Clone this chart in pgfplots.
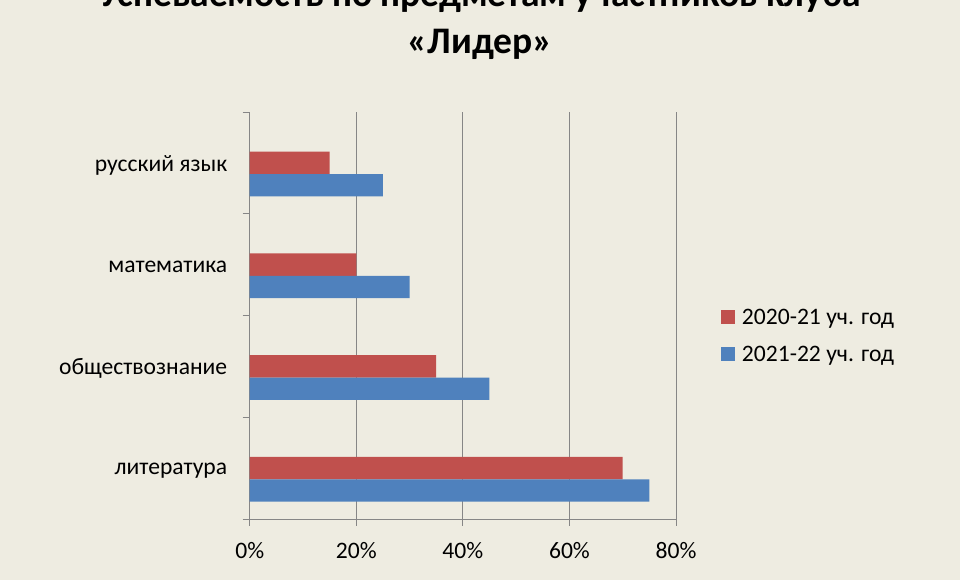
\documentclass[border=0pt]{standalone}
\usepackage{pgfplots}
\pgfplotsset{compat=1.18}
\usepackage{fontspec}
\setmainfont{Carlito}
\definecolor{bg}{HTML}{EEECE1}
\definecolor{redbar}{HTML}{C0504D}
\definecolor{bluebar}{HTML}{4F81BD}
\definecolor{gridc}{HTML}{868686}
\begin{document}
\begin{tikzpicture}[x=1bp,y=1bp]
\clip (0,0) rectangle (960,580);
\fill[bg] (0,0) rectangle (960,580);
\node[anchor=base,inner sep=0] at (480,573) {\fontsize{37.5bp}{42bp}\selectfont\bfseries Успеваемость по предметам участников клуба};
\node[anchor=base,inner sep=0] at (480,526.7) {\fontsize{37.5bp}{42bp}\selectfont\bfseries «Лидер»};
\begin{axis}[
  at={(249.7bp,61bp)}, anchor=south west,
  width=426.3bp, height=407bp, scale only axis,
  xmin=0, xmax=80, ymin=-0.5, ymax=3.5,
  axis x line*=bottom, axis y line*=left,
  axis line style={draw=gridc,line width=0.8bp,-},
  xtick={0,20,40,60,80},
  xticklabels={0\%,20\%,40\%,60\%,80\%},
  xticklabel style={yshift=-13bp},
  xmajorgrids, grid style={draw=gridc,line width=0.8bp},
  tick align=outside,
  x tick style={draw=gridc,line width=0.8bp},
  y tick style={draw=gridc,line width=0.8bp},
  major tick length=7bp,
  ytick={-0.5,0.5,1.5,2.5,3.5},
  yticklabels={},
  extra y ticks={0,1,2,3},
  extra y tick labels={литература,обществознание,математика,русский язык},
  extra y tick style={major tick length=0pt, yticklabel style={xshift=-19bp, yshift=-2.5bp}, grid=none, tick style={draw=none}},
  tick label style={font=\fontsize{23.6bp}{28bp}\selectfont},
  /pgf/number format/assume math mode=true,
  xbar, bar width=0.22,
  legend style={at={(1.1049,0.4464)}, anchor=west, draw=none, fill=none,
    inner sep=0pt, row sep=16.3bp,
    nodes={inner sep=0pt, text height=16bp, text depth=5bp, anchor=base west},
    font=\fontsize{23.6bp}{28bp}\selectfont, column sep=7.4bp},
  legend cell align=left,
  legend image code/.code={\fill[#1] (0bp,0.6bp) rectangle (13.6bp,14.2bp);},
]
\addplot[fill=redbar, draw=none, bar shift=0] coordinates {(70,0) (35,1) (20,2) (15,3)};
\addplot[fill=bluebar, draw=none, bar shift=-0.22] coordinates {(75,0) (45,1) (30,2) (25,3)};
\legend{2020-21 уч. год, 2021-22 уч. год}
\end{axis}
\end{tikzpicture}
\end{document}
